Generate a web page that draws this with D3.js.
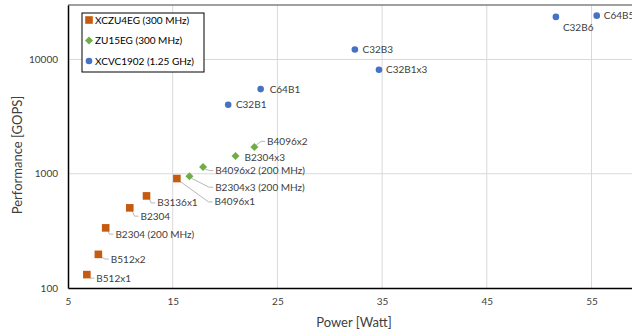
<!DOCTYPE html>
<html><head><meta charset="utf-8">
<script src="https://cdn.jsdelivr.net/npm/d3@7"></script>
<style>body{margin:0;background:#fff;overflow:hidden} text{font-family:Lato,"Open Sans",sans-serif}</style>
</head><body><svg id="c" width="632" height="335"></svg>
<script>
// ---- data ----
const seriesNames = ["XCZU4EG (300 MHz)", "ZU15EG (300 MHz)", "XCVC1902 (1.25 GHz)"];
const zu4Labels = ["B512x1", "B512x2", "B2304 (200 MHz)", "B2304", "B3136x1", "B4096x1"];
const zu4Power  = [6.8, 7.9, 8.6, 10.9, 12.5, 15.4];
const zu4Perf   = [131, 197, 336, 503, 640, 908];
const zu15Labels = ["B2304x3 (200 MHz)", "B4096x2 (200 MHz)", "B2304x3", "B4096x2"];
const zu15Power  = [16.6, 17.9, 21.0, 22.8];
const zu15Perf   = [951, 1146, 1429, 1714];
const vcLabels = ["C32B1", "C64B1", "C32B3", "C32B1x3", "C32B6", "C64B5"];
const vcPower  = [20.3, 23.4, 32.4, 34.7, 51.6, 55.5];
const vcPerf   = [4018, 5506, 12220, 8127, 23600, 24200];
const xTicks = [5, 15, 25, 35, 45, 55];
const yTicks = [100, 1000, 10000];

// ---- layout (label offsets in px, leader flag) ----
const zu4LabelPos  = [[9.5,3.5,1],[12.5,4.7,1],[9.7,6.3,1],[10.7,8.3,1],[10.7,7,1],[37.7,23.4,1]];
const zu15LabelPos = [[25.7,11,1],[12.3,3.6,1],[9,1,0],[12.7,-5.7,1]];
const vcLabelPos   = [[7.7,0,0],[9,0,0],[7.7,0,0],[7,0,0],[7,10.4,0],[7,0,0]];

const colors = ["#C55A11", "#70AD47", "#4472C4"];
const svg = d3.select("#c");
const x = d3.scaleLinear().domain([5, 60]).range([68, 68 + 55 * 10.47]);
const y = d3.scaleLog().domain([100, 30000]).range([288, 5]);

// gridlines
svg.append("g").selectAll("line").data(xTicks.slice(1)).join("line")
  .attr("x1", d => x(d)).attr("x2", d => x(d)).attr("y1", 5).attr("y2", 288)
  .attr("stroke", "#d9d9d9").attr("stroke-width", 1);
svg.append("g").selectAll("line").data(yTicks.slice(1)).join("line")
  .attr("y1", d => y(d)).attr("y2", d => y(d)).attr("x1", 68).attr("x2", 632)
  .attr("stroke", "#d9d9d9").attr("stroke-width", 1);
// top border
svg.append("line").attr("x1", 68).attr("x2", 632).attr("y1", 5).attr("y2", 5)
  .attr("stroke", "#808080").attr("stroke-width", 1.5);

// axes
const xAxis = svg.append("g").attr("transform", "translate(0,288)")
  .call(d3.axisBottom(x).tickValues(xTicks).tickSize(0).tickPadding(10));
const yAxis = svg.append("g").attr("transform", "translate(68,0)")
  .call(d3.axisLeft(y).tickValues(yTicks).tickFormat(d3.format("d")).tickSize(0).tickPadding(10));
[xAxis, yAxis].forEach(a => {
  a.select(".domain").attr("stroke", "#000").attr("stroke-width", 1.5);
  a.selectAll("text").attr("font-size", 10).attr("fill", "#404040").attr("font-family", "Lato");
});

svg.append("text").attr("x", 354).attr("y", 327).attr("text-anchor", "middle")
  .attr("font-size", 13).attr("fill", "#404040").text("Power [Watt]");
svg.append("text").attr("transform", "translate(22,155) rotate(-90)").attr("text-anchor", "middle")
  .attr("font-size", 13).attr("fill", "#404040").text("Performance [GOPS]");

// series
const series = [
  {labels: zu4Labels, px: zu4Power, py: zu4Perf, pos: zu4LabelPos, shape: "square"},
  {labels: zu15Labels, px: zu15Power, py: zu15Perf, pos: zu15LabelPos, shape: "diamond"},
  {labels: vcLabels, px: vcPower, py: vcPerf, pos: vcLabelPos, shape: "circle"}
];
function marker(g, shape, cx, cy, color) {
  if (shape === "square") g.append("rect").attr("x", cx - 3.8).attr("y", cy - 3.8).attr("width", 7.6).attr("height", 7.6).attr("fill", color);
  else if (shape === "diamond") g.append("path").attr("d", `M${cx},${cy-4}L${cx+4},${cy}L${cx},${cy+4}L${cx-4},${cy}Z`).attr("fill", color);
  else g.append("circle").attr("cx", cx).attr("cy", cy).attr("r", 3.3).attr("fill", color);
}
const gLead = svg.append("g"), gMark = svg.append("g"), gLab = svg.append("g");
series.forEach((s, si) => {
  s.labels.forEach((lab, i) => {
    const cx = x(s.px[i]), cy = y(s.py[i]);
    const [dx, dy, lead] = s.pos[i];
    const lx = cx + dx, ly = cy + dy;
    if (lead) {
      gLead.append("polyline").attr("points", `${cx+2},${cy+(dy<0?-2:2)} ${lx-6},${ly} ${lx-2},${ly}`)
        .attr("fill", "none").attr("stroke", "#a6a6a6").attr("stroke-width", 0.8);
    }
    marker(gMark, s.shape, cx, cy, colors[si]);
    gLab.append("text").attr("x", lx).attr("y", ly).attr("dy", "0.35em")
      .attr("font-size", 10).attr("fill", "#404040").text(lab);
  });
});

// legend
const lg = svg.append("g");
lg.append("rect").attr("x", 82).attr("y", 13).attr("width", 122).attr("height", 59)
  .attr("fill", "#fff").attr("stroke", "#000").attr("stroke-width", 1);
const legY = [20, 40.5, 61];
seriesNames.forEach((n, i) => {
  marker(lg, series[i].shape, 89, legY[i], colors[i]);
  lg.append("text").attr("x", 95).attr("y", legY[i]).attr("dy", "0.35em")
    .attr("font-size", 10).attr("fill", "#000").text(n);
});
</script></body></html>
